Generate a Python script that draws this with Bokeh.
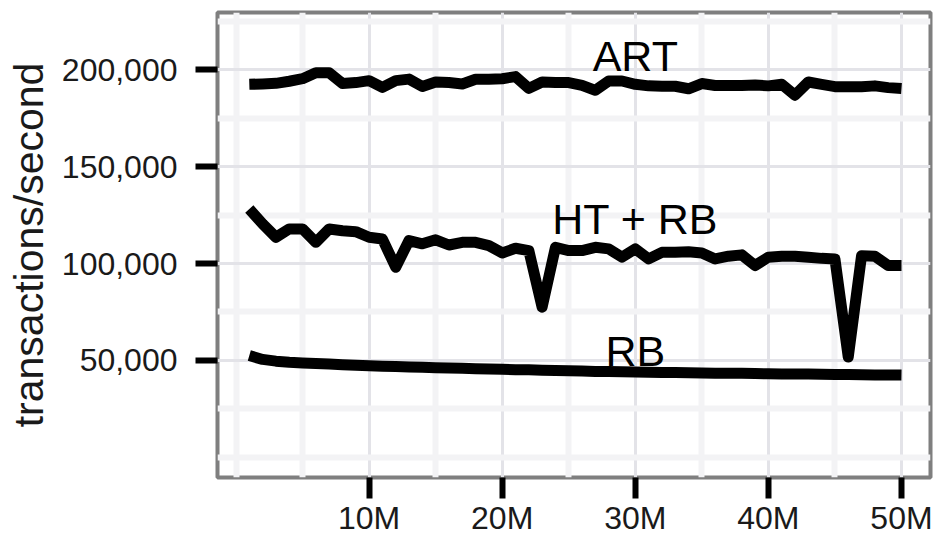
from bokeh.plotting import figure
from bokeh.models import FixedTicker, Range1d
from bokeh.embed import file_html
from bokeh.resources import INLINE
from bokeh.core.properties import value

# ---- data (x in millions of keys) ----
keys_m = list(range(1, 51))

art = [192.6, 192.8, 193.1, 194.2, 195.5, 198.6, 198.6, 193.0, 193.5, 194.5,
       191.0, 194.5, 195.3, 191.5, 193.8, 193.5, 192.8, 195.2, 195.2, 195.5,
       196.6, 190.5, 193.8, 193.5, 193.5, 192.1, 189.5, 194.3, 194.3, 192.6,
       191.8, 191.6, 191.6, 190.3, 193.0, 192.0, 192.0, 192.0, 192.3, 191.8,
       192.6, 187.0, 193.8, 192.6, 191.4, 191.4, 191.4, 191.8, 190.9, 190.4]

ht_rb = [128.2, 120.5, 113.6, 117.9, 117.9, 111.0, 117.9, 117.0, 116.5, 113.6,
         112.7, 98.1, 111.9, 110.2, 112.3, 109.6, 111.0, 111.0, 109.3, 105.5,
         107.9, 106.7, 77.5, 108.4, 106.7, 106.7, 108.4, 107.6, 103.3, 107.6,
         102.4, 105.8, 105.8, 106.1, 105.5, 102.4, 103.8, 104.5, 99.0, 103.3,
         103.8, 103.8, 103.3, 102.7, 102.4, 51.7, 104.1, 103.8, 99.0, 99.0]

rb = [52.5, 50.5, 49.6, 49.0, 48.7, 48.4, 48.1, 47.8, 47.5, 47.2,
      47.0, 46.8, 46.6, 46.4, 46.2, 46.0, 45.9, 45.7, 45.5, 45.4,
      45.2, 45.1, 44.9, 44.8, 44.6, 44.5, 44.3, 44.2, 44.1, 44.0,
      43.9, 43.8, 43.7, 43.6, 43.5, 43.4, 43.4, 43.3, 43.2, 43.1,
      43.0, 43.0, 42.9, 42.8, 42.7, 42.7, 42.6, 42.5, 42.5, 42.4]

x_ticks = [10, 20, 30, 40, 50]
x_tick_labels = ["10M", "20M", "30M", "40M", "50M"]
x_minor_ticks = [0, 5, 15, 25, 35, 45]

y_ticks = [50000, 100000, 150000, 200000]
y_tick_labels = ["50,000", "100,000", "150,000", "200,000"]
y_minor_ticks = [0, 25000, 75000, 125000, 175000, 225000]

series_names = ["ART", "HT + RB", "RB"]
name_x = [30, 30, 30]
name_y = [207000, 122800, 55000]

# ---- figure ----
FONT = "Liberation Sans"
X0, X1 = -1.39, 52.18
Y0, Y1 = -10500, 229700

p = figure(width=938, height=538, output_backend="svg", toolbar_location=None,
           x_range=Range1d(X0, X1), y_range=Range1d(Y0, Y1),
           min_border_left=217, min_border_right=8, min_border_top=12,
           min_border_bottom=61)

p.background_fill_color = "white"
p.border_fill_color = "white"
p.outline_line_color = "#7f7f7f"
p.outline_line_width = 4

p.xaxis.ticker = FixedTicker(ticks=x_ticks, minor_ticks=x_minor_ticks)
p.yaxis.ticker = FixedTicker(ticks=y_ticks, minor_ticks=y_minor_ticks)
p.xaxis.major_label_overrides = dict(zip(x_ticks, x_tick_labels))
p.yaxis.major_label_overrides = dict(zip(y_ticks, y_tick_labels))

for g in (p.xgrid, p.ygrid):
    g.grid_line_color = "#e3e3e8"
    g.grid_line_width = 3
    g.minor_grid_line_color = "#f3f3f5"
    g.minor_grid_line_width = 6

for ax in (p.xaxis, p.yaxis):
    ax.axis_line_color = None
    ax.major_tick_line_color = "black"
    ax.major_tick_line_width = 6
    ax.major_tick_in = 0
    ax.minor_tick_line_color = None
    ax.major_label_text_font = FONT
    ax.major_label_text_font_size = "32px"
    ax.major_label_text_color = "#1a1a1a"

p.xaxis.major_tick_out = 21
p.xaxis.major_label_standoff = 1
p.yaxis.major_tick_out = 22
p.yaxis.major_label_standoff = 18

p.yaxis.axis_label = "transactions/second"
p.yaxis.axis_label_text_font = FONT
p.yaxis.axis_label_text_font_size = "41px"
p.yaxis.axis_label_text_font_style = "normal"
p.yaxis.axis_label_text_color = "#1a1a1a"
p.yaxis.axis_label_standoff = 7

for ys in (art, ht_rb, rb):
    p.line(keys_m, [v * 1000 for v in ys], line_width=11, line_color="black",
           line_join="round", line_cap="butt")

p.text(x=name_x, y=name_y, text=series_names, text_font=value(FONT),
       text_font_size="43px", text_align="center", text_baseline="alphabetic",
       text_color="black")

open("out.html", "w").write(file_html(p, INLINE))
